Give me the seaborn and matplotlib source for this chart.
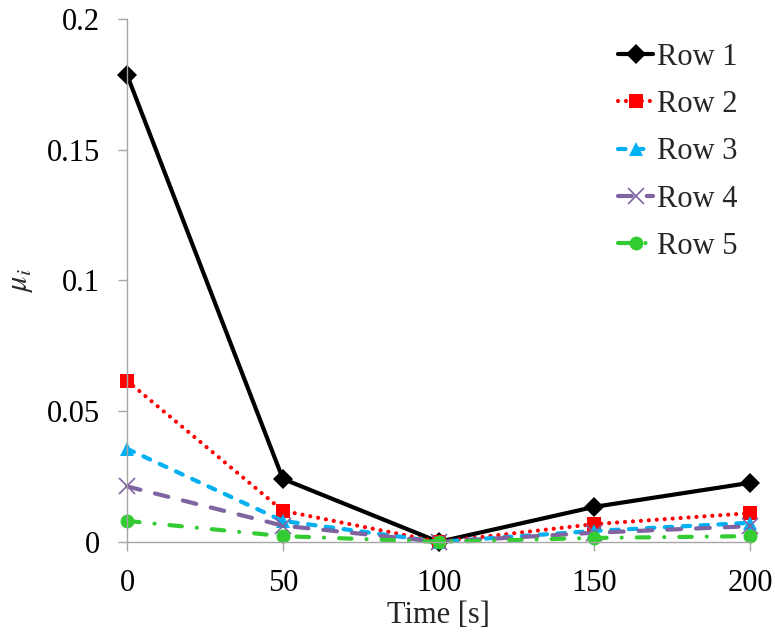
import pandas as pd
import seaborn as sns
import matplotlib.pyplot as plt

time_s = [0, 50, 100, 150, 200]
row1 = [0.1786, 0.0241, 0.0, 0.0134, 0.0226]
row2 = [0.0616, 0.0119, 0.0, 0.0068, 0.0110]
row3 = [0.0356, 0.0080, 0.0, 0.0042, 0.0073]
row4 = [0.0212, 0.0062, 0.0, 0.0035, 0.0060]
row5 = [0.0080, 0.0022, 0.0, 0.0015, 0.0022]
series = {"Row 1": row1, "Row 2": row2, "Row 3": row3, "Row 4": row4, "Row 5": row5}

colors = {"Row 1": "#000000", "Row 2": "#FF0000", "Row 3": "#00B0F0",
          "Row 4": "#8064A2", "Row 5": "#33CC33"}
markers = {"Row 1": "D", "Row 2": "s", "Row 3": "^", "Row 4": "X", "Row 5": "o"}
dashes = {"Row 1": "", "Row 2": (0.01, 1.9), "Row 3": (1.8, 2.5),
          "Row 4": (3.3, 3.6), "Row 5": (3.0, 3.6, 0.01, 3.6)}

rows = [{"time": t, "mu": v, "row": name} for name, vals in series.items() for t, v in zip(time_s, vals)]
df = pd.DataFrame(rows)

sns.set_style("white")
plt.rcParams["font.family"] = ["Liberation Serif", "DejaVu Serif"]
plt.rcParams["mathtext.fontset"] = "stix"
FS = 22

fig = plt.figure(figsize=(7.75, 6.36), dpi=100)
ax = fig.add_axes([0.164, 0.148, 0.804, 0.822])
sns.lineplot(data=df, x="time", y="mu", hue="row", style="row", palette=colors,
             markers=markers, dashes=dashes, linewidth=3.0, markersize=10,
             markeredgewidth=0, ax=ax, clip_on=False)


def fix_line(line):
    line.set_dash_capstyle("round")
    line.set_solid_capstyle("round")
    # Excel's "x" marker is a thin cross, not a filled one
    if line.get_marker() == "X":
        line.set_marker("x")
        line.set_markeredgecolor(colors["Row 4"])
        line.set_markeredgewidth(1.2)
        line.set_markersize(12)


for line in ax.lines:
    fix_line(line)

ax.set_xlim(0, 200)
ax.set_ylim(0, 0.2)
ax.set_xticks(time_s)
ax.set_yticks([0, 0.05, 0.1, 0.15, 0.2])
ax.set_yticklabels(["0", "0.05", "0.1", "0.15", "0.2"])
ax.set_xlabel("Time [s]", fontsize=FS)
ax.set_ylabel(r"$\mu_i$", fontsize=FS)
ax.xaxis.set_label_coords(0.5, -0.113)
ax.yaxis.set_label_coords(-0.148, 0.5)
sns.despine(ax=ax)
for s in ["left", "bottom"]:
    ax.spines[s].set_color("#A6A6A6")
    ax.spines[s].set_linewidth(1.0)
ax.tick_params(axis="both", labelsize=FS, colors="#A6A6A6", labelcolor="black",
               direction="out", length=6.5, width=1.0, bottom=True, left=True)
ax.tick_params(axis="x", pad=13)
ax.tick_params(axis="y", pad=13)

handles, labels = ax.get_legend_handles_labels()
for h in handles:
    fix_line(h)
ax.legend(handles, labels, loc="upper left", bbox_to_anchor=(0.788, 0.955), frameon=False,
          fontsize=FS, handlelength=1.15, handletextpad=0.13, labelspacing=0.6,
          borderaxespad=0, borderpad=0)

fig.savefig("out.png", dpi=100)
